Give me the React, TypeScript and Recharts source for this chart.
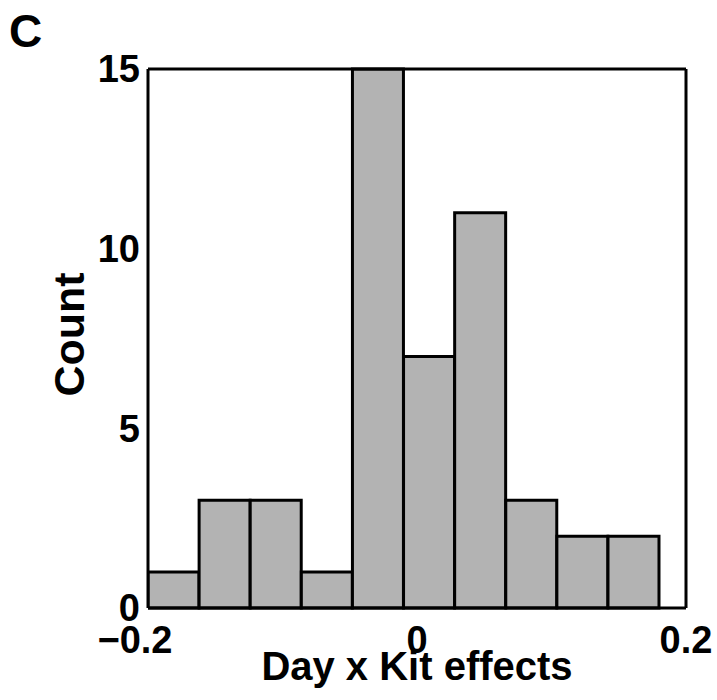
import React from 'react';
import { BarChart, Bar, XAxis, YAxis } from 'recharts';

// histogram bins (centres) and counts
const binCenters = [-0.181, -0.143, -0.105, -0.067, -0.029, 0.009, 0.047, 0.085, 0.123, 0.161];
const counts = [1, 3, 3, 1, 15, 7, 11, 3, 2, 2];
const xTicks = [-0.2, 0, 0.2];
const yTicks = [0, 5, 10, 15];

const FONT = '"Liberation Sans", Arial, Helvetica, sans-serif';

const fmt = (v: number) => (v < 0 ? '\u2212' + Math.abs(v) : String(v));

const XTick = (props: any) => {
    const { x, y, payload } = props;
    const v = payload.value as number;
    return (
        <text x={x} y={y} dy={37} dx={v < 0 ? -13 : 0} textAnchor="middle"
            fontFamily={FONT} fontWeight="bold" fontSize={38} fill="#000">
            {fmt(v)}
        </text>
    );
};

const YTick = (props: any) => {
    const { x, y, payload } = props;
    return (
        <text x={x} y={y} dy="0.355em" textAnchor="end"
            fontFamily={FONT} fontWeight="bold" fontSize={38} fill="#000">
            {payload.value}
        </text>
    );
};

const CountLabel = (props: any) => {
    const vb = props.viewBox;
    const cx = vb.x + 84;
    const cy = vb.y + vb.height / 2 - 4;
    return (
        <text x={cx} y={cy} transform={`rotate(-90 ${cx} ${cy})`} textAnchor="middle"
            fontFamily={FONT} fontWeight="bold" fontSize={43} fill="#000">
            Count
        </text>
    );
};

const XLabel = (props: any) => {
    const vb = props.viewBox;
    return (
        <text x={vb.x + vb.width / 2} y={vb.y + 72} textAnchor="middle"
            fontFamily={FONT} fontWeight="bold" fontSize={40} fill="#000">
            Day x Kit effects
        </text>
    );
};

export default function App() {
    const data = binCenters.map((x, i) => ({ x, count: counts[i] }));

    return (
        <div style={{ position: 'absolute', left: 0, top: 0, width: 717, height: 700, background: '#fff' }}>
            <div style={{ position: 'absolute', left: 9, top: 8, fontFamily: FONT, fontWeight: 'bold', fontSize: 46, lineHeight: 1 }}>
                C
            </div>
            <BarChart width={717} height={700} data={data} barCategoryGap={0} barGap={0}
                margin={{ top: 69, right: 31, left: 0, bottom: 0 }}>
                <XAxis xAxisId="b" dataKey="x" type="number" domain={[-0.2, 0.2]} ticks={xTicks}
                    allowDataOverflow height={92} tickLine={false} tick={<XTick />}
                    axisLine={{ stroke: '#000', strokeWidth: 3 }} label={{ content: <XLabel /> }} />
                <XAxis xAxisId="bm" dataKey="x" type="number" domain={[-0.2, 0.2]} ticks={xTicks}
                    allowDataOverflow mirror tick={false} tickSize={6} axisLine={false}
                    tickLine={{ stroke: '#000', strokeWidth: 2 }} />
                <XAxis xAxisId="t" orientation="top" dataKey="x" type="number" domain={[-0.2, 0.2]} ticks={xTicks}
                    allowDataOverflow mirror tick={false} tickSize={6}
                    axisLine={{ stroke: '#000', strokeWidth: 3 }} tickLine={{ stroke: '#000', strokeWidth: 2 }} />
                <YAxis yAxisId="l" type="number" domain={[0, 15]} ticks={yTicks} width={148}
                    tickLine={false} tick={<YTick />} axisLine={{ stroke: '#000', strokeWidth: 3 }}
                    label={{ content: <CountLabel /> }} />
                <YAxis yAxisId="lm" type="number" domain={[0, 15]} ticks={yTicks} mirror
                    tick={false} tickSize={6} axisLine={false} tickLine={{ stroke: '#000', strokeWidth: 2 }} />
                <YAxis yAxisId="r" orientation="right" type="number" domain={[0, 15]} ticks={yTicks} mirror
                    tick={false} tickSize={6} axisLine={{ stroke: '#000', strokeWidth: 3 }}
                    tickLine={{ stroke: '#000', strokeWidth: 2 }} />
                <Bar xAxisId="b" yAxisId="l" dataKey="count" fill="#b3b3b3" stroke="#000" strokeWidth={3}
                    isAnimationActive={false} />
            </BarChart>
        </div>
    );
}
